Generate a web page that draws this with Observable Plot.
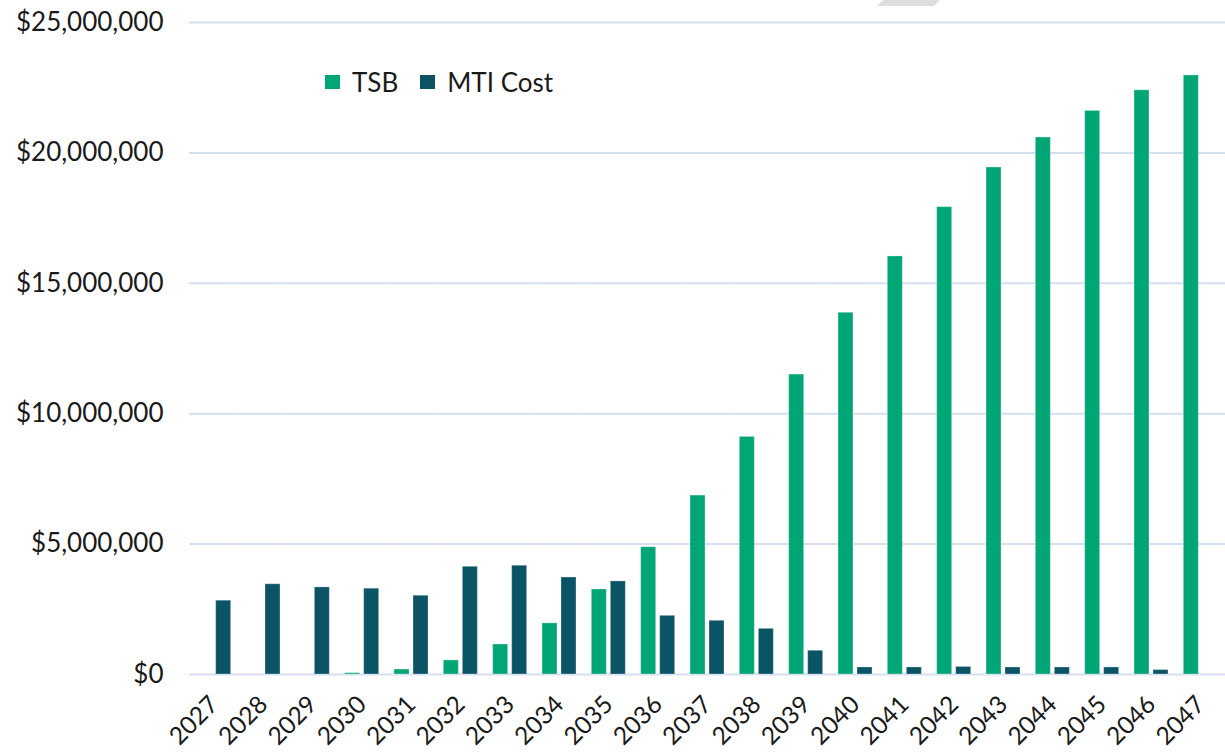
<!DOCTYPE html>
<html>
<head>
<meta charset="utf-8">
<script src="https://cdn.jsdelivr.net/npm/d3@7"></script>
<script src="https://cdn.jsdelivr.net/npm/@observablehq/plot@0.6"></script>
<style>
  html, body { margin: 0; padding: 0; background: #fff; }
  #wrap { position: relative; width: 1225px; height: 755px; font-family: Lato, "Noto Sans", sans-serif; }
  #legend { position: absolute; left: 325px; top: 66px; display: flex; align-items: center; font-size: 26px; color: #1a1a1a; }
  #legend .item { display: flex; align-items: center; margin-right: 22px; }
  #legend .sw { width: 15px; height: 14px; margin-right: 12px; }
  #deco { position: absolute; left: 877px; top: 0px; width: 63px; height: 6px; background: #dedede; clip-path: polygon(10% 0, 100% 0, 90% 100%, 0 100%); }
</style>
</head>
<body>
<div id="wrap"><div id="legend"></div><div id="deco"></div></div>
<script>
const years = ["2027","2028","2029","2030","2031","2032","2033","2034","2035","2036","2037","2038","2039","2040","2041","2042","2043","2044","2045","2046","2047"];
const seriesNames = ["TSB", "MTI Cost"];
const seriesColors = ["#00a676", "#0b5466"];
const tsbValues = [0, 0, 0, 50000, 190000, 540000, 1150000, 1960000, 3260000, 4880000, 6860000, 9110000, 11500000, 13870000, 16030000, 17920000, 19440000, 20590000, 21610000, 22400000, 22970000];
const mtiValues = [2830000, 3460000, 3340000, 3290000, 3020000, 4130000, 4170000, 3720000, 3570000, 2250000, 2060000, 1750000, 910000, 270000, 270000, 290000, 270000, 270000, 270000, 170000, 0];
const yTicks = [0, 5000000, 10000000, 15000000, 20000000, 25000000];

const data = [];
years.forEach((yr, i) => {
  data.push({year: yr, series: seriesNames[0], value: tsbValues[i]});
  data.push({year: yr, series: seriesNames[1], value: mtiValues[i]});
});

const fmt = d3.format(",");
const chart = Plot.plot({
  width: 1225,
  height: 755,
  marginTop: 22,
  marginBottom: 81,
  marginLeft: 189,
  marginRight: 0,
  style: {fontFamily: "Lato, 'Noto Sans', sans-serif", fontSize: "26px", color: "#1a1a1a", background: "white", overflow: "visible"},
  fx: {domain: years, padding: 0, round: false, label: null, tickRotate: -45, tickSize: 0, tickPadding: 26},
  x: {domain: seriesNames, paddingInner: 0.2105, paddingOuter: 0.4034, round: false, axis: null},
  y: {domain: [0, 25000000], ticks: yTicks, tickFormat: d => "$" + fmt(d), tickSize: 0, tickPadding: 26, label: null},
  color: {domain: seriesNames, range: seriesColors},
  marks: [
    Plot.ruleY(yTicks, {stroke: "#d5dff1", strokeWidth: 2}),
    Plot.barY(data, {fx: "year", x: "series", y: "value", fill: "series", stroke: "white", strokeOpacity: 0.3, strokeWidth: 1})
  ]
});
d3.select(chart).selectAll('[aria-label^="fx-axis"]').style("font-size", "24.5px");
document.getElementById("wrap").prepend(chart);
chart.style.position = "absolute";
chart.style.left = "0px";
chart.style.top = "0px";

const legend = document.getElementById("legend");
seriesNames.forEach((name, i) => {
  const item = document.createElement("div");
  item.className = "item";
  const sw = document.createElement("div");
  sw.className = "sw";
  sw.style.background = seriesColors[i];
  const label = document.createElement("span");
  label.textContent = name;
  item.appendChild(sw);
  item.appendChild(label);
  legend.appendChild(item);
});
</script>
</body>
</html>
